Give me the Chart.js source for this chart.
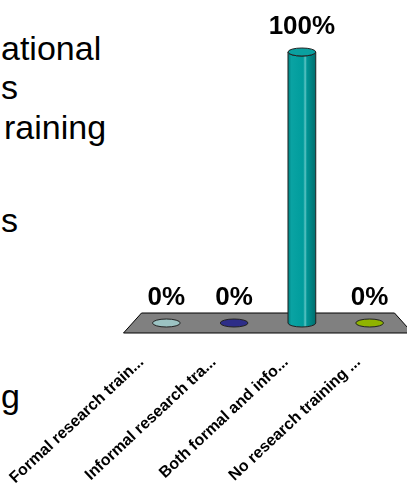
<!DOCTYPE html>
<html>
<head>
<meta charset="utf-8">
<script src="https://cdn.jsdelivr.net/npm/chart.js@4.4.1/dist/chart.umd.min.js"></script>
<style>
  html, body { margin: 0; padding: 0; background: #fff; }
  body { width: 407px; height: 487px; position: relative; overflow: hidden; }
  .slide-line {
    position: absolute; left: 1px; white-space: nowrap; line-height: 1;
    font-family: Arial, "Liberation Sans", sans-serif; font-size: 34px; color: #000;
  }
  #wrap { position: absolute; left: 0; top: 0; width: 407px; height: 487px; }
</style>
</head>
<body>
<div class="slide-line" style="top:31px">ational</div>
<div class="slide-line" style="top:70px">s</div>
<div class="slide-line" style="top:110px;left:4px">raining</div>
<div class="slide-line" style="top:203px">s</div>
<div class="slide-line" style="top:379px">g</div>
<div id="wrap"><canvas id="chart"></canvas></div>
<script>
  const categories = [
    "Formal research train...",
    "Informal research tra...",
    "Both formal and info...",
    "No research training ...",
  ];
  const percentages = [0, 0, 100, 0];

  const palette = ["#9cc3c3", "#2d2d88", "#009999", "#8fb300"];
  const fontFamily = "Arial, 'Liberation Sans', sans-serif";

  // floor is a trapezoid: back edge pulled in, front edge pushed out
  const FLOOR_HALF_DEPTH = 10;
  const FLOOR_SKEW = 9;

  function frontX(chart, x) {
    const a = chart.chartArea;
    const k = (a.right - a.left + 2 * FLOOR_SKEW) / (a.right - a.left);
    return a.left - FLOOR_SKEW + (x - a.left) * k;
  }

  const floorPlugin = {
    id: "floor",
    beforeDatasetsDraw(chart) {
      const { ctx, chartArea: a, scales } = chart;
      const base = scales.y.getPixelForValue(0);
      ctx.save();
      ctx.beginPath();
      ctx.moveTo(a.left + FLOOR_SKEW, base - FLOOR_HALF_DEPTH);
      ctx.lineTo(a.right - FLOOR_SKEW, base - FLOOR_HALF_DEPTH);
      ctx.lineTo(a.right + FLOOR_SKEW, base + FLOOR_HALF_DEPTH);
      ctx.lineTo(a.left - FLOOR_SKEW, base + FLOOR_HALF_DEPTH);
      ctx.closePath();
      ctx.fillStyle = "#808080";
      ctx.fill();
      ctx.strokeStyle = "#000";
      ctx.lineWidth = 1;
      ctx.stroke();
      ctx.restore();
    },
  };

  // bars as cylinders, zero bars as flat discs, with value labels
  const cylinderPlugin = {
    id: "cylinders",
    afterDatasetsDraw(chart) {
      const { ctx } = chart;
      const meta = chart.getDatasetMeta(0);
      meta.data.forEach((bar, i) => {
        const { x, y, base, width } = bar.getProps(["x", "y", "base", "width"], true);
        const rx = width / 2, ry = 4;
        const col = palette[i];
        ctx.save();
        ctx.strokeStyle = "#222";
        ctx.lineWidth = 1;
        if (base - y < 1) {
          ctx.beginPath();
          ctx.ellipse(x, base, rx, ry, 0, 0, Math.PI * 2);
          ctx.fillStyle = col;
          ctx.fill();
          ctx.stroke();
        } else {
          const g = ctx.createLinearGradient(x - rx, 0, x + rx, 0);
          g.addColorStop(0, "#007f7f");
          g.addColorStop(0.12, "#0aa3a3");
          g.addColorStop(0.55, "#009c9c");
          g.addColorStop(0.62, "#5cc4c4");
          g.addColorStop(0.68, "#009494");
          g.addColorStop(1, "#006e6e");
          ctx.beginPath();
          ctx.moveTo(x - rx, y);
          ctx.lineTo(x - rx, base);
          ctx.ellipse(x, base, rx, ry, 0, Math.PI, 0, true);
          ctx.lineTo(x + rx, y);
          ctx.ellipse(x, y, rx, ry, 0, 0, Math.PI, false);
          ctx.closePath();
          ctx.fillStyle = g;
          ctx.fill();
          ctx.stroke();
          ctx.beginPath();
          ctx.ellipse(x, y, rx, ry, 0, 0, Math.PI * 2);
          ctx.fillStyle = "#0aa0a0";
          ctx.fill();
          ctx.stroke();
        }
        ctx.fillStyle = "#000";
        ctx.font = "bold 26px " + fontFamily;
        ctx.textAlign = "center";
        ctx.textBaseline = "alphabetic";
        ctx.fillText(percentages[i] + "%", x, y - 18.5);
        ctx.restore();
      });
    },
    // slanted category names in front of the floor
    afterDraw(chart) {
      const { ctx, scales } = chart;
      const base = scales.y.getPixelForValue(0);
      ctx.save();
      ctx.fillStyle = "#000";
      ctx.font = "bold 16px " + fontFamily;
      ctx.textAlign = "right";
      ctx.textBaseline = "alphabetic";
      categories.forEach((label, i) => {
        const tx = frontX(chart, scales.x.getPixelForValue(i)) - 15;
        ctx.save();
        ctx.translate(tx, base + 40);
        ctx.rotate(-43 * Math.PI / 180);
        ctx.fillText(label, 0, 0);
        ctx.restore();
      });
      ctx.restore();
    },
  };

  new Chart(document.getElementById("chart"), {
    type: "bar",
    data: {
      labels: categories,
      datasets: [{
        data: percentages,
        backgroundColor: "rgba(0,0,0,0)",
        borderWidth: 0,
        barPercentage: 0.41,
        categoryPercentage: 1,
      }],
    },
    options: {
      responsive: true,
      maintainAspectRatio: false,
      animation: false,
      events: [],
      layout: { padding: { left: 132.5, right: 3.5, top: 52, bottom: 164 } },
      plugins: { legend: { display: false }, tooltip: { enabled: false } },
      scales: {
        x: { display: false },
        y: { display: false, min: 0, max: 100 },
      },
    },
    plugins: [floorPlugin, cylinderPlugin],
  });
</script>
</body>
</html>
